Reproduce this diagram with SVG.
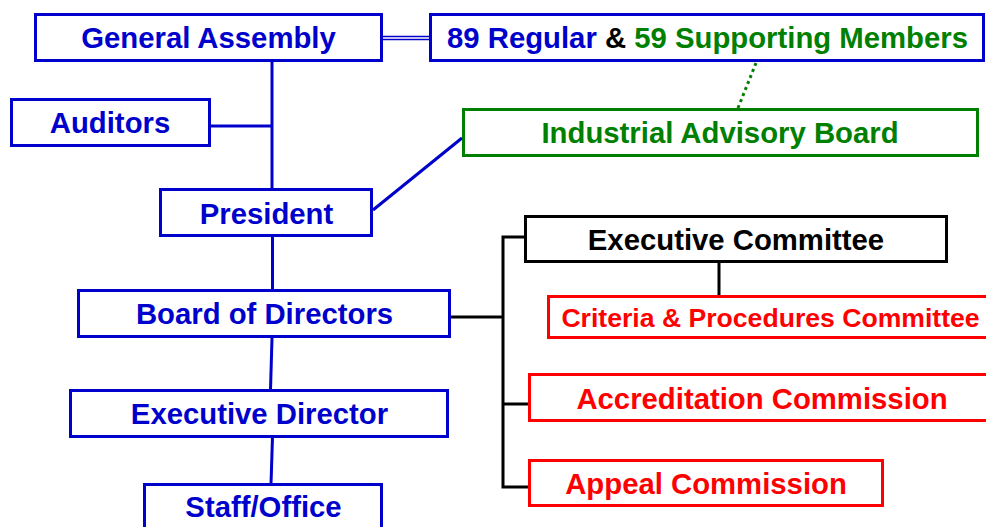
<svg xmlns="http://www.w3.org/2000/svg" width="986" height="527" viewBox="0 0 986 527">
<style>
.box{fill:#fff;stroke-width:3}
.b{stroke:#0000CC}.g{stroke:#008000}.r{stroke:#FF0000}.k{stroke:#000}
text{font-family:"Liberation Sans",Arial,sans-serif;font-weight:bold;font-size:29.3px;text-anchor:middle}
.tb{fill:#0000CC}.tg{fill:#008000}.tr{fill:#FF0000}.tk{fill:#000}
.ln{fill:none;stroke-width:3}
</style>
<rect width="986" height="527" fill="#fff"/>
<g id="connectors">
<line class="ln b" x1="272" y1="62" x2="272" y2="189"/>
<line class="ln b" x1="210" y1="126" x2="272" y2="126"/>
<line class="ln b" x1="272.5" y1="237" x2="272.5" y2="290"/>
<line class="ln b" x1="272" y1="338" x2="270.5" y2="390"/>
<line class="ln b" x1="272.5" y1="437" x2="271" y2="484"/>
<line class="ln b" x1="373" y1="210" x2="462" y2="138"/>
<line stroke="#0000CC" stroke-width="1.5" x1="383" y1="36.5" x2="430" y2="36.5"/>
<line stroke="#0000CC" stroke-width="1.5" x1="383" y1="39.5" x2="430" y2="39.5"/>
<line class="ln g" stroke-width="3.5" stroke-dasharray="3 3.5" x1="756" y1="63" x2="738" y2="108"/>
<path class="ln k" d="M451,317 H503 M526,237 H503 V487 H529 M503,404 H529"/>
<line class="ln k" x1="719" y1="262" x2="719" y2="296"/>
</g>
<g id="general-assembly"><rect class="box b" x="35.5" y="14.5" width="346" height="46"/><text class="tb" x="208.5" y="48">General Assembly</text></g>
<g id="members"><rect class="box b" x="430.5" y="14.5" width="553" height="46"/><text x="447" y="48" style="text-anchor:start"><tspan class="tb">89 Regular</tspan><tspan class="tk"> &amp; </tspan><tspan class="tg">59 Supporting Members</tspan></text></g>
<g id="auditors"><rect class="box b" x="11.5" y="99.5" width="198" height="46"/><text class="tb" x="110" y="133">Auditors</text></g>
<g id="industrial-advisory-board"><rect class="box g" x="463.5" y="109.5" width="514" height="46"/><text class="tg" x="720" y="143">Industrial Advisory Board</text></g>
<g id="president"><rect class="box b" x="160.5" y="189.5" width="211" height="46"/><text class="tb" x="266.5" y="224">President</text></g>
<g id="board-of-directors"><rect class="box b" x="78.5" y="290.5" width="371" height="46"/><text class="tb" x="264.5" y="324">Board of Directors</text></g>
<g id="executive-director"><rect class="box b" x="70.5" y="390.5" width="377" height="46"/><text class="tb" x="259.5" y="424">Executive Director</text></g>
<g id="staff-office"><rect class="box b" x="144.5" y="484.5" width="237" height="60"/><text class="tb" x="263.5" y="517">Staff/Office</text></g>
<g id="executive-committee"><rect class="box k" x="525.5" y="216.5" width="421" height="45"/><text class="tk" x="736" y="250">Executive Committee</text></g>
<g id="criteria-procedures-committee"><rect class="box r" x="548.5" y="296.5" width="450" height="41"/><text class="tr" x="770.5" y="327" style="font-size:26.6px">Criteria &amp; Procedures Committee</text></g>
<g id="accreditation-commission"><rect class="box r" x="529.5" y="374.5" width="470" height="46"/><text class="tr" x="762" y="409">Accreditation Commission</text></g>
<g id="appeal-commission"><rect class="box r" x="529.5" y="460.5" width="353" height="45"/><text class="tr" x="706" y="494">Appeal Commission</text></g>
</svg>
